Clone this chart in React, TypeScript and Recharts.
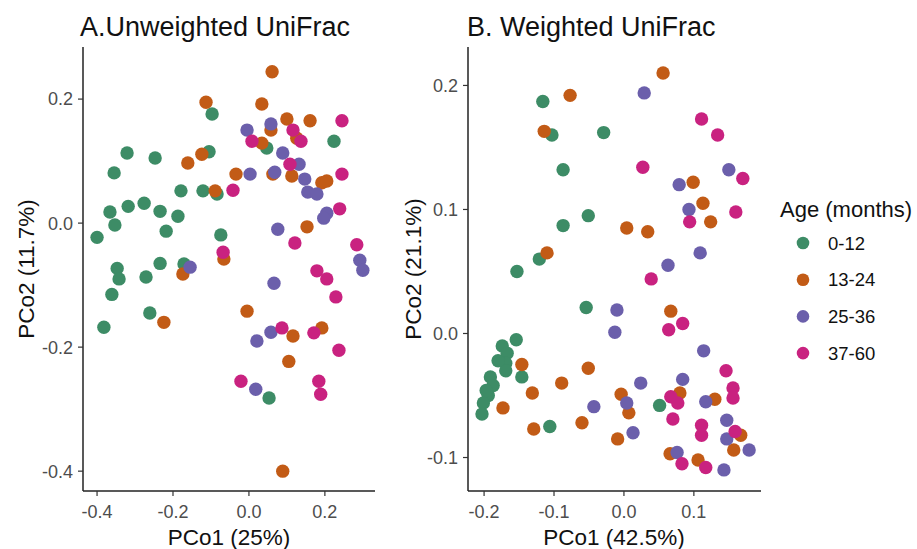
import React from "react";
import { ScatterChart, Scatter, XAxis, YAxis } from "recharts";

const ageGroups = ["0-12", "13-24", "25-36", "37-60"];
const groupColors = ["#3d8c66", "#c25b16", "#6b5fab", "#c92280"];

// A. Unweighted UniFrac  [PCo1, PCo2]
const unwGreen = [
  [-0.321, 0.113], [-0.247, 0.105], [-0.355, 0.081], [-0.366, 0.018], [-0.318, 0.027],
  [-0.276, 0.032], [-0.234, 0.019], [-0.187, 0.011], [-0.179, 0.052], [-0.097, 0.176],
  [-0.105, 0.115], [-0.121, 0.052], [-0.084, 0.047], [0.047, 0.121], [0.224, 0.132],
  [-0.353, -0.003], [-0.4, -0.023], [-0.218, -0.013], [-0.234, -0.065], [-0.171, -0.066],
  [-0.347, -0.073], [-0.342, -0.09], [-0.271, -0.087], [-0.361, -0.115], [-0.261, -0.145],
  [-0.382, -0.168], [-0.074, -0.019], [0.053, -0.282],
];
const unwOrange = [
  [0.061, 0.244], [-0.113, 0.195], [0.034, 0.192], [0.1, 0.168], [0.161, 0.165],
  [-0.161, 0.097], [-0.124, 0.111], [0.058, 0.15], [0.034, 0.129], [0.126, 0.137],
  [0.063, 0.079], [0.113, 0.076], [0.192, 0.065], [0.205, 0.068], [-0.034, 0.079],
  [-0.089, 0.052], [-0.066, -0.058], [-0.174, -0.082], [-0.224, -0.16], [0.153, -0.006],
  [-0.005, -0.142], [0.116, -0.182], [0.192, -0.169], [0.105, -0.223], [0.089, -0.4],
];
const unwPurple = [
  [-0.005, 0.15], [0.058, 0.16], [0.089, 0.113], [0.132, 0.095], [0.068, 0.082],
  [0.003, 0.079], [0.147, 0.071], [0.155, 0.05], [0.179, 0.047], [0.205, 0.016],
  [0.197, 0.008], [-0.155, -0.071], [0.076, -0.01], [0.292, -0.06], [0.3, -0.076],
  [0.066, -0.097], [0.021, -0.19], [0.058, -0.176], [0.018, -0.268],
];
const unwMagenta = [
  [0.245, 0.165], [0.008, 0.132], [0.116, 0.15], [0.137, 0.132], [0.108, 0.095],
  [0.245, 0.079], [-0.042, 0.053], [0.239, 0.023], [-0.068, -0.047], [0.121, -0.032],
  [0.284, -0.035], [0.179, -0.077], [0.205, -0.09], [0.229, -0.119], [0.087, -0.169],
  [0.171, -0.177], [0.237, -0.205], [-0.021, -0.255], [0.184, -0.255], [0.189, -0.276],
];

// B. Weighted UniFrac  [PCo1, PCo2]
const wGreen = [
  [-0.116, 0.187], [-0.103, 0.16], [-0.087, 0.132], [-0.029, 0.162], [-0.051, 0.095],
  [-0.087, 0.087], [-0.121, 0.06], [-0.153, 0.05], [-0.054, 0.021], [-0.154, -0.005],
  [-0.174, -0.01], [-0.167, -0.016], [-0.169, -0.024], [-0.169, -0.03], [-0.191, -0.035],
  [-0.187, -0.042], [-0.194, -0.05], [-0.201, -0.056], [-0.203, -0.065], [-0.18, -0.022],
  [-0.197, -0.046], [-0.146, -0.035], [-0.106, -0.075], [0.051, -0.058],
];
const wOrange = [
  [-0.077, 0.192], [-0.114, 0.163], [0.056, 0.21], [0.099, 0.122], [0.113, 0.105],
  [0.124, 0.09], [-0.11, 0.065], [0.004, 0.085], [0.034, 0.082], [0.067, 0.018],
  [-0.146, -0.025], [-0.051, -0.028], [-0.089, -0.04], [-0.131, -0.048], [-0.173, -0.06],
  [-0.129, -0.077], [-0.06, -0.072], [-0.004, -0.049], [0.007, -0.064], [-0.009, -0.085],
  [0.08, -0.048], [0.13, -0.053], [0.167, -0.082], [0.157, -0.094], [0.066, -0.097],
  [0.106, -0.102],
];
const wPurple = [
  [0.029, 0.194], [0.15, 0.132], [0.079, 0.12], [0.093, 0.1], [0.109, 0.065],
  [0.063, 0.055], [-0.01, 0.019], [-0.013, 0.001], [0.114, -0.014], [0.024, -0.04],
  [0.084, -0.037], [-0.043, -0.059], [0.004, -0.056], [0.013, -0.08], [0.117, -0.055],
  [0.147, -0.07], [0.147, -0.085], [0.179, -0.094], [0.076, -0.096], [0.143, -0.11],
];
const wMagenta = [
  [0.111, 0.173], [0.134, 0.16], [0.027, 0.134], [0.17, 0.125], [0.16, 0.098],
  [0.094, 0.09], [0.039, 0.044], [0.064, 0.003], [0.084, 0.008], [0.146, -0.03],
  [0.067, -0.051], [0.077, -0.056], [0.07, -0.069], [0.156, -0.044], [0.156, -0.052],
  [0.111, -0.074], [0.111, -0.082], [0.159, -0.079], [0.083, -0.105], [0.117, -0.108],
];

const ticksA = [-0.4, -0.2, 0, 0.2];
const ticksBx = [-0.2, -0.1, 0, 0.1];
const ticksBy = [-0.1, 0, 0.1, 0.2];

const FONT = "'Liberation Sans', Arial, sans-serif";
const toPts = (arr: number[][]) => arr.map(([x, y]) => ({ x, y }));
const fmt = (v: number) => v.toFixed(1);

const tickStyle = { fill: "#4d4d4d", fontSize: 18, fontFamily: FONT };
const axisLineStyle = { stroke: "#222", strokeWidth: 1.5 };
const tickLineStyle = { stroke: "#333", strokeWidth: 1.2 };

const dot = (color: string) => (p: any) => (
  <circle cx={p.cx} cy={p.cy} r={6.7} fill={color} />
);

type PanelProps = {
  groups: number[][][];
  xDomain: [number, number];
  yDomain: [number, number];
  xTicks: number[];
  yTicks: number[];
  width: number;
  yAxisWidth: number;
  right: number;
};

const Panel = ({ groups, xDomain, yDomain, xTicks, yTicks, width, yAxisWidth, right }: PanelProps) => (
  <ScatterChart
    width={width}
    height={549}
    margin={{ top: 47, right, bottom: 0, left: 0 }}
  >
    <XAxis
      type="number"
      dataKey="x"
      domain={xDomain}
      ticks={xTicks}
      allowDataOverflow
      tickFormatter={fmt}
      height={58}
      tick={tickStyle}
      axisLine={axisLineStyle}
      tickLine={tickLineStyle}
      tickSize={5}
      tickMargin={9}
    />
    <YAxis
      type="number"
      dataKey="y"
      domain={yDomain}
      ticks={yTicks}
      allowDataOverflow
      tickFormatter={fmt}
      width={yAxisWidth}
      tick={tickStyle}
      axisLine={axisLineStyle}
      tickLine={tickLineStyle}
      tickSize={5}
      tickMargin={5}
    />
    {groups.map((g, i) => (
      <Scatter
        key={ageGroups[i]}
        name={ageGroups[i]}
        data={toPts(g)}
        fill={groupColors[i]}
        shape={dot(groupColors[i])}
        isAnimationActive={false}
      />
    ))}
  </ScatterChart>
);

export default function App() {
  return (
    <div style={{ position: "absolute", left: 0, top: 0, width: 917, height: 549, background: "#fff", fontFamily: FONT }}>
      <div style={{ position: "absolute", left: 0, top: 0 }}>
        <Panel
          groups={[unwGreen, unwOrange, unwPurple, unwMagenta]}
          xDomain={[-0.437, 0.332]}
          yDomain={[-0.432, 0.284]}
          xTicks={ticksA}
          yTicks={ticksA}
          width={380}
          yAxisWidth={83}
          right={5}
        />
      </div>
      <div style={{ position: "absolute", left: 380, top: 0 }}>
        <Panel
          groups={[wGreen, wOrange, wPurple, wMagenta]}
          xDomain={[-0.223, 0.196]}
          yDomain={[-0.127, 0.231]}
          xTicks={ticksBx}
          yTicks={ticksBy}
          width={400}
          yAxisWidth={88}
          right={19}
        />
      </div>
      <svg width={917} height={549} style={{ position: "absolute", left: 0, top: 0, pointerEvents: "none" }} fontFamily={FONT}>
        <text x={80} y={36} fontSize={27} fill="#111">A.Unweighted UniFrac</text>
        <text x={467} y={36} fontSize={27} fill="#111">B. Weighted UniFrac</text>
        <text x={229} y={545} fontSize={22.5} fill="#111" textAnchor="middle">PCo1 (25%)</text>
        <text x={614} y={545} fontSize={22.5} fill="#111" textAnchor="middle">PCo1 (42.5%)</text>
        <text x={34} y={269} fontSize={22.5} fill="#111" textAnchor="middle" transform="rotate(-90 34 269)">PCo2 (11.7%)</text>
        <text x={421} y={269} fontSize={22.5} fill="#111" textAnchor="middle" transform="rotate(-90 421 269)">PCo2 (21.1%)</text>
        <text x={780} y={217} fontSize={22} fill="#111">Age (months)</text>
        {ageGroups.map((g, i) => (
          <g key={g}>
            <circle cx={803} cy={243 + i * 36.7} r={6.3} fill={groupColors[i]} />
            <text x={828} y={243 + i * 36.7 + 6.5} fontSize={18.5} fill="#111">{g}</text>
          </g>
        ))}
      </svg>
    </div>
  );
}
